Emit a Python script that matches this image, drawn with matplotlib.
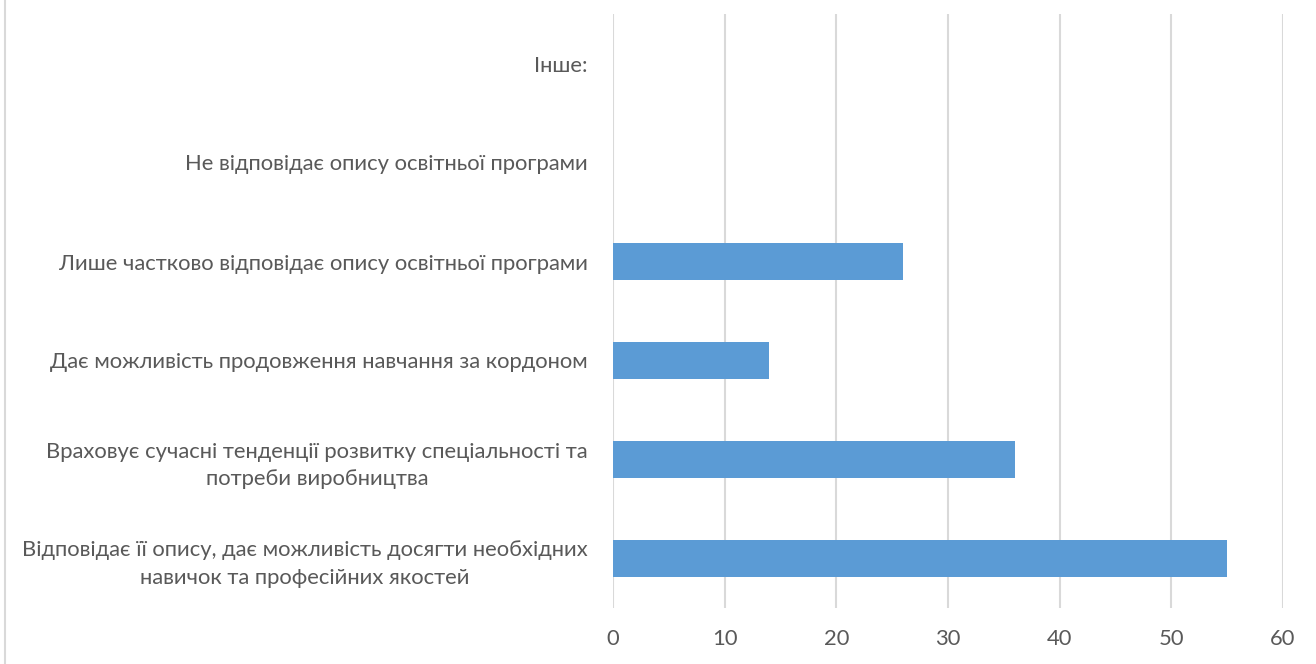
import numpy as np
import matplotlib.pyplot as plt
from matplotlib.lines import Line2D

# Дані
categories = ['Відповідає її опису, дає можливість досягти необхідних\nнавичок та професійних якостей',
              'Враховує сучасні тенденції розвитку спеціальності та\nпотреби виробництва',
              'Дає можливість продовження навчання за кордоном',
              'Лише частково відповідає опису освітньої програми',
              'Не відповідає опису освітньої програми',
              'Інше:']
values = [55, 36, 14, 26, 0, 0]
xticks = [0, 10, 20, 30, 40, 50, 60]

plt.rcParams['font.family'] = ['Lato', 'DejaVu Sans']

fig = plt.figure(figsize=(13.16, 6.64), dpi=100)
ax = fig.add_axes([613/1316, 1-608/664, (1283-613)/1316, (608-14)/664])

y = np.arange(len(categories))
ax.barh(y, values, height=0.365, color='#5b9bd5', zorder=3)

ax.set_xlim(0, 60)
ax.set_ylim(-0.5, 5.5)
ax.set_xticks(xticks)
ax.set_yticks(y)
ax.set_yticklabels(categories, multialignment='center', linespacing=1.45,
                   fontsize=15.8, color='#595959')
ax.tick_params(axis='x', labelsize=15.8, labelcolor='#595959', length=0, pad=15)
ax.tick_params(axis='y', length=0, pad=18)
ax.grid(axis='x', color='#d9d9d9', linewidth=1.5, zorder=0)
for s in ax.spines.values():
    s.set_visible(False)

# рамка зліва
fig.add_artist(Line2D([5/1316, 5/1316], [0, 1], color='#d9d9d9', linewidth=1.5))

fig.savefig('out.png', dpi=100)
